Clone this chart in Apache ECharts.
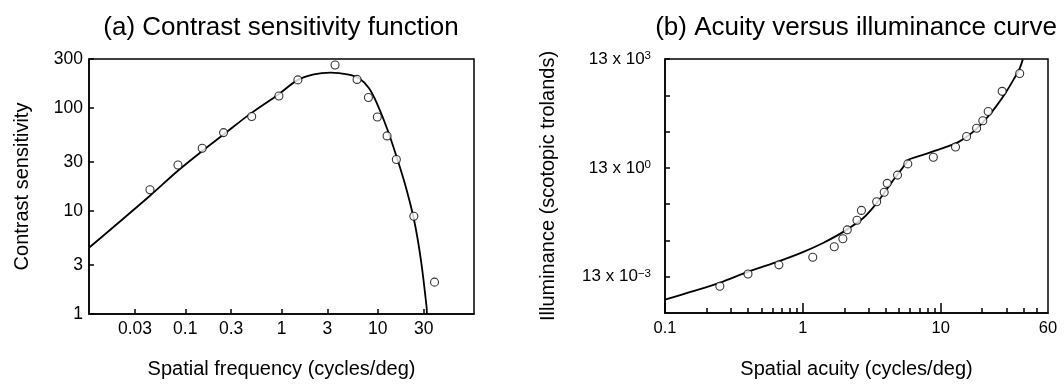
<!DOCTYPE html>
<html>
<head>
<meta charset="utf-8">
<script src="https://cdn.jsdelivr.net/npm/echarts@6/dist/echarts.min.js"></script>
<style>
html,body{margin:0;padding:0;background:#fff;}
#chart{width:1064px;height:384px;}
</style>
</head>
<body>
<div id="chart"></div>
<script>
// ---------- (a) Contrast sensitivity function ----------
const csfFreq = [0.043, 0.084, 0.15, 0.25, 0.49, 0.94, 1.48, 3.6, 6.1, 8.0, 9.9, 12.5, 15.6, 23.7, 38.9];
const csfSens = [16.1, 28, 40.8, 57.8, 83, 131, 188, 262, 190, 127, 82, 53.7, 31.7, 8.9, 2.04];
const csfFitFreq = [0.01, 0.043, 0.085, 0.15, 0.25, 0.48, 0.92, 1.48, 2.17, 3.24, 4.83, 6.39, 8.12, 9.93, 12.6, 16.0, 19.6, 23.9, 28.1, 32.1, 32.4];
const csfFitSens = [4.4, 14.1, 24.9, 38.3, 55.4, 88.9, 135, 188, 213, 221, 213, 195, 156, 108, 61.9, 31.8, 17.0, 8.1, 3.34, 1.19, 1.0];
const csfXTicks = [0.03, 0.1, 0.3, 1, 3, 10, 30];
const csfYTicks = [1, 3, 10, 30, 100, 300];

// ---------- (b) Acuity versus illuminance ----------
// illuminance given as n in "13 x 10^n scotopic trolands"
const acuity = [0.25, 0.40, 0.67, 1.18, 1.69, 1.95, 2.10, 2.47, 2.66, 3.43, 3.89, 4.09, 4.86, 5.77, 8.84, 12.8, 15.4, 18.2, 20.2, 22.1, 27.9, 37.4];
const illumExp = [-3.264, -2.927, -2.673, -2.464, -2.173, -1.955, -1.709, -1.445, -1.173, -0.936, -0.673, -0.427, -0.2, 0.109, 0.291, 0.573, 0.864, 1.091, 1.3, 1.555, 2.109, 2.6];
const rodFitAcuity = [0.1, 0.153, 0.252, 0.403, 0.675, 1.01, 1.40, 1.95, 2.73, 3.42, 4.46, 5.56, 5.84];
const rodFitExp = [-3.632, -3.42, -3.161, -2.861, -2.570, -2.316, -2.071, -1.771, -1.39, -0.98, -0.373, 0.109, 0.23];
const coneFitAcuity = [5.84, 8.71, 12.8, 16.0, 18.9, 21.7, 25.0, 29.5, 33.9, 37.4, 39.4];
const coneFitExp = [0.23, 0.445, 0.673, 0.9, 1.136, 1.382, 1.673, 2.064, 2.445, 2.745, 2.99];
const acuityMajorTicks = [0.1, 1, 10];
const acuityMinorTicks = [0.2, 0.3, 0.4, 0.5, 0.6, 0.7, 0.8, 0.9, 2, 3, 4, 5, 6, 7, 8, 9, 20, 30, 40, 50];
const acuityLabels = [0.1, 1, 10, 60];
const illumTickExps = [-3, -2, -1, 0, 1, 2, 3];
const illumLabelExps = [-3, 0, 3];

const L = Math.log10;
const FONT = '"Liberation Sans", Arial, Helvetica, sans-serif';
const pairs = (xs, ys, fy) => xs.map((x, i) => [L(x), fy ? fy(ys[i]) : ys[i]]);
const fmtPow = v => {
  const p = Math.pow(10, v);
  return String(Math.round(p * 1000) / 1000);
};

const lineStyleAxis = { color: '#000', width: 1.5 };
const tickStyle = { color: '#000', width: 1.5 };
const lbl = size => ({ color: '#000', fontSize: size, fontFamily: FONT });
const nameStyle = { color: '#000', fontSize: 20, fontFamily: FONT };

const option = {
  backgroundColor: '#fff',
  animation: false,
  title: [
    { text: '(a) Contrast sensitivity function', left: 276, top: 10, textAlign: 'center',
      textStyle: { fontSize: 26, fontWeight: 'normal', color: '#000', fontFamily: FONT } },
    { text: '(b) Acuity versus illuminance curve', left: 851, top: 10, textAlign: 'center',
      textStyle: { fontSize: 26, fontWeight: 'normal', color: '#000', fontFamily: FONT } }
  ],
  grid: [
    { left: 89, top: 59, width: 385, height: 257, show: true, borderColor: '#000', borderWidth: 1.5, backgroundColor: 'transparent' },
    { left: 665, top: 59, width: 383, height: 256, show: true, borderColor: '#000', borderWidth: 1.5, backgroundColor: 'transparent' }
  ],
  xAxis: [
    { type: 'value', gridIndex: 0, min: -2, max: 2, position: 'bottom',
      name: 'Spatial frequency (cycles/deg)', nameLocation: 'middle', nameGap: 45,
      nameTextStyle: nameStyle,
      axisLine: { show: true, onZero: false, lineStyle: lineStyleAxis },
      axisTick: { show: true, inside: true, length: 5, lineStyle: tickStyle, customValues: csfXTicks.map(L) },
      axisLabel: Object.assign({ margin: 6, customValues: csfXTicks.map(L), formatter: fmtPow }, lbl(17.5)),
      splitLine: { show: false } },
    { type: 'value', gridIndex: 1, min: -1, max: L(60), position: 'bottom',
      name: 'Spatial acuity (cycles/deg)', nameLocation: 'middle', nameGap: 46,
      nameTextStyle: nameStyle,
      axisLine: { show: true, onZero: false, lineStyle: lineStyleAxis },
      axisTick: { show: true, inside: true, length: 10, lineStyle: tickStyle, customValues: acuityMajorTicks.map(L) },
      axisLabel: Object.assign({ margin: 7, customValues: acuityLabels.map(L), formatter: fmtPow }, lbl(16.5)),
      splitLine: { show: false } },
    { type: 'value', gridIndex: 1, min: -1, max: L(60), position: 'bottom',
      axisLine: { show: false, onZero: false },
      axisTick: { show: true, inside: true, length: 5, lineStyle: tickStyle, customValues: acuityMinorTicks.map(L) },
      axisLabel: { show: false },
      splitLine: { show: false } }
  ],
  yAxis: [
    { type: 'value', gridIndex: 0, min: 0, max: L(300),
      name: 'Contrast sensitivity', nameLocation: 'middle', nameGap: 57,
      nameTextStyle: nameStyle,
      axisLine: { show: true, onZero: false, lineStyle: lineStyleAxis },
      axisTick: { show: true, inside: true, length: 5, lineStyle: tickStyle, customValues: csfYTicks.map(L) },
      axisLabel: Object.assign({ margin: 6, customValues: csfYTicks.map(L), formatter: fmtPow }, lbl(17.5)),
      splitLine: { show: false } },
    { type: 'value', gridIndex: 1, min: -4, max: 3,
      name: 'Illuminance (scotopic trolands)', nameLocation: 'middle', nameGap: 107,
      nameTextStyle: nameStyle,
      axisLine: { show: true, onZero: false, lineStyle: lineStyleAxis },
      axisTick: { show: true, inside: true, length: 5, lineStyle: tickStyle, customValues: illumTickExps },
      axisLabel: Object.assign({ margin: 14, customValues: illumLabelExps,
        formatter: v => {
          const n = Math.round(v);
          return '13 x 10{s|' + (n < 0 ? '\u2212' + (-n) : String(n)) + '}';
        },
        lineHeight: 18,
        rich: { s: { fontSize: 11.5, fontFamily: FONT, color: '#000', verticalAlign: 'top', lineHeight: 11, padding: [0, 0, 6, 0] } }
      }, lbl(17)),
      splitLine: { show: false } }
  ],
  series: [
    { type: 'line', xAxisIndex: 0, yAxisIndex: 0, data: pairs(csfFitFreq, csfFitSens, L),
      smooth: 0.35, showSymbol: false, symbol: 'none', clip: true,
      lineStyle: { color: '#000', width: 1.8 }, z: 3 },
    { type: 'scatter', xAxisIndex: 0, yAxisIndex: 0, data: pairs(csfFreq, csfSens, L),
      symbol: 'circle', symbolSize: 8,
      itemStyle: { color: '#fff', borderColor: '#000', borderWidth: 1.1 }, z: 4 },
    { type: 'line', xAxisIndex: 1, yAxisIndex: 1, data: pairs(rodFitAcuity, rodFitExp),
      smooth: 0.3, showSymbol: false, symbol: 'none', clip: true,
      lineStyle: { color: '#000', width: 1.8 }, z: 3 },
    { type: 'line', xAxisIndex: 1, yAxisIndex: 1, data: pairs(coneFitAcuity, coneFitExp),
      smooth: 0.3, showSymbol: false, symbol: 'none', clip: true,
      lineStyle: { color: '#000', width: 1.8 }, z: 3 },
    { type: 'scatter', xAxisIndex: 1, yAxisIndex: 1, data: pairs(acuity, illumExp),
      symbol: 'circle', symbolSize: 8,
      itemStyle: { color: '#fff', borderColor: '#000', borderWidth: 1.1 }, z: 4 }
  ]
};

const chart = echarts.init(document.getElementById('chart'), null, { renderer: 'canvas' });
chart.setOption(option);
</script>
</body>
</html>
